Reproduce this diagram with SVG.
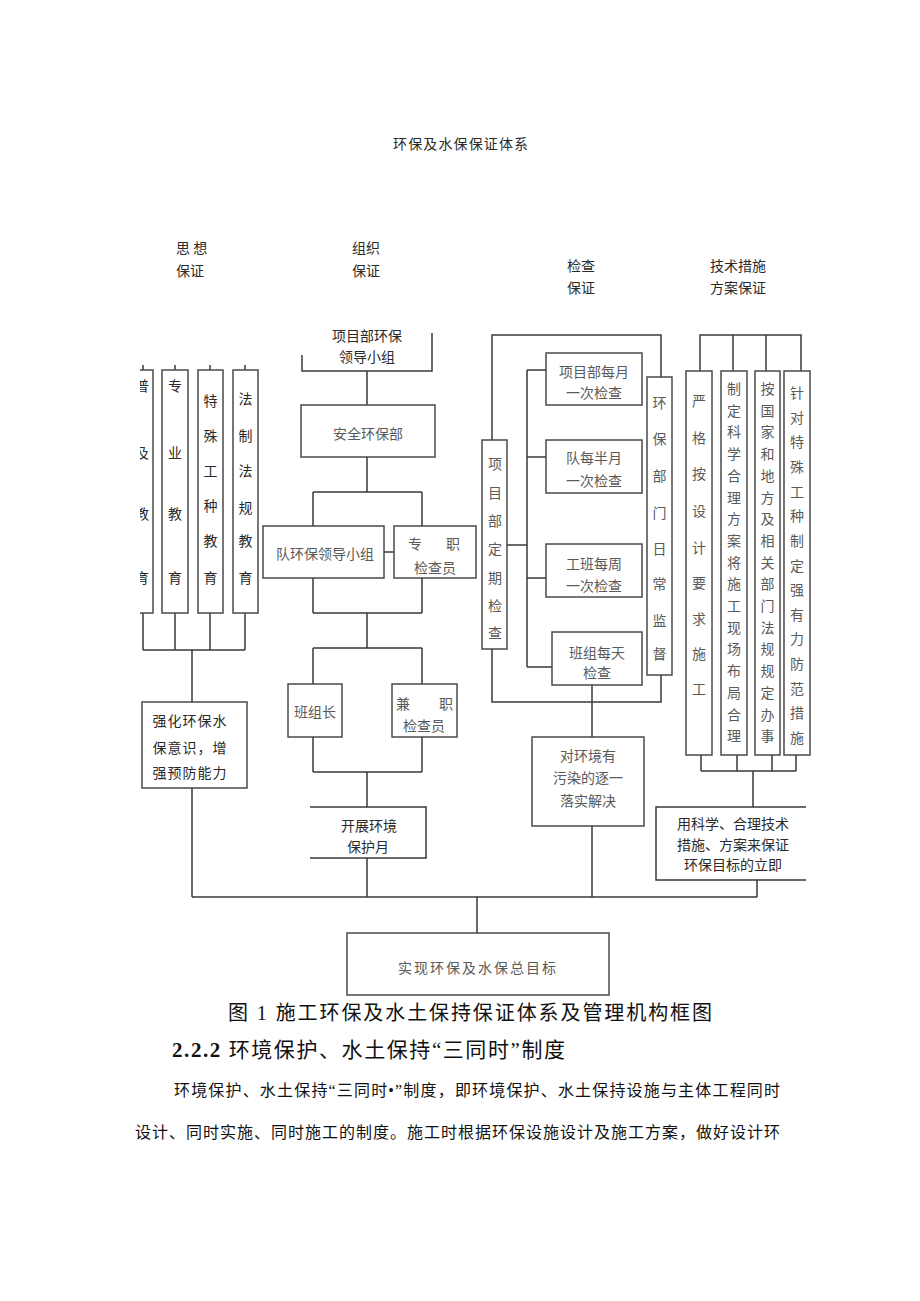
<svg xmlns="http://www.w3.org/2000/svg" width="920" height="1301" viewBox="0 0 920 1301">
<style>
.ln{stroke:#3a3a3a;stroke-width:1.5;fill:none}
.bx{stroke:#4a4a4a;stroke-width:1.5;fill:#fff}
.t{font-family:"Noto Sans CJK SC","Noto Sans CJK JP",sans-serif;font-size:14px;fill:#2a2a2a;text-anchor:middle;dominant-baseline:central}
.g{fill:#5a5a5a}
.s{text-anchor:start}
.doc{font-family:"Liberation Serif","Noto Sans CJK SC",serif;fill:#111;dominant-baseline:central}
</style>
<defs>
<clipPath id="cl"><rect x="140" y="0" width="780" height="1301"/></clipPath>
</defs>
<rect width="920" height="1301" fill="#fff"/>

<text class="t s" x="393" y="143" font-size="13" textLength="135">环保及水保保证体系</text>
<g id="labels">
<text class="t s" x="176" y="247">思 想</text>
<text class="t s" x="176" y="270">保证</text>
<text class="t s" x="352" y="247">组织</text>
<text class="t s" x="352" y="270">保证</text>
<text class="t s" x="567" y="265">检查</text>
<text class="t s" x="567" y="287">保证</text>
<text class="t s" x="710" y="265">技术措施</text>
<text class="t s" x="710" y="287">方案保证</text>
</g>

<g id="connectors">
<!-- left column -->
<path class="ln" d="M143,365V370M175,365V370M210,365V370M245,365V370"/>
<path class="ln" d="M143,613V650M175,613V650M210,613V650M245,613V650M143,650H245M192,650V702M192,788V897"/>
<!-- bus -->
<path class="ln" d="M192,897H757M477,897V933"/>
<!-- middle column -->
<path class="ln" d="M367,371V405M367,457V492M313,492H422M313,492V526M422,492V526M384,552H394"/>
<path class="ln" d="M313,578V613M422,578V613M313,613H422M367,613V648M313,648H422M313,648V684M422,648V684"/>
<path class="ln" d="M313,737V772M422,737V772M313,772H422M367,772V807M367,858V897"/>
<!-- check column -->
<path class="ln" d="M492,440V335H661V377M492,649V702H661V675"/>
<path class="ln" d="M527,370V667M527,370H546M527,457H546M527,578H546M527,667H552M507,545H527"/>
<path class="ln" d="M592,685V737M592,826V897"/>
<!-- right column -->
<path class="ln" d="M700,371V335H801V371M733,335V371M766,335V371"/>
<path class="ln" d="M701,755V771M737,755V771M772,755V771M796,755V771M701,771H796M753,771V807M757,880V897"/>
</g>

<g id="n-pujiao" clip-path="url(#cl)">
<rect class="bx" x="128" y="370" width="25" height="243"/>
<text class="t"><tspan x="142" y="385">普</tspan><tspan x="142" y="452">及</tspan><tspan x="142" y="513">教</tspan><tspan x="142" y="577">育</tspan></text>
</g>
<g id="n-zhuanye">
<rect class="bx" x="162" y="370" width="26" height="243"/>
<text class="t"><tspan x="175" y="385">专</tspan><tspan x="175" y="452">业</tspan><tspan x="175" y="513">教</tspan><tspan x="175" y="577">育</tspan></text>
</g>
<g id="n-teshu">
<rect class="bx" x="198" y="370" width="25" height="243"/>
<text class="t"><tspan x="210.5" y="400">特</tspan><tspan x="210.5" y="435">殊</tspan><tspan x="210.5" y="470">工</tspan><tspan x="210.5" y="505">种</tspan><tspan x="210.5" y="540">教</tspan><tspan x="210.5" y="577">育</tspan></text>
</g>
<g id="n-fazhi">
<rect class="bx" x="233" y="370" width="25" height="243"/>
<text class="t"><tspan x="245.5" y="398">法</tspan><tspan x="245.5" y="435">制</tspan><tspan x="245.5" y="470">法</tspan><tspan x="245.5" y="507">规</tspan><tspan x="245.5" y="540">教</tspan><tspan x="245.5" y="577">育</tspan></text>
</g>
<g id="n-qianghua">
<rect class="bx" x="142" y="702" width="105" height="86"/>
<text class="t" letter-spacing="1"><tspan x="190" y="720">强化环保水</tspan><tspan x="190" y="747">保意识，增</tspan><tspan x="190" y="772">强预防能力</tspan></text>
</g>

<g id="n-lingdao">
<path class="ln" d="M302,355V371H432V333"/>
<text class="t"><tspan x="367" y="335">项目部环保</tspan><tspan x="367" y="356">领导小组</tspan></text>
</g>
<g id="n-anquan">
<rect class="bx" x="301" y="405" width="134" height="52"/>
<text class="t g" x="368" y="433" font-size="15">安全环保部</text>
</g>
<g id="n-dui">
<rect class="bx" x="263" y="526" width="121" height="52"/>
<text class="t g" x="325" y="553">队环保领导小组</text>
</g>
<g id="n-zhuanzhi">
<rect class="bx" x="394" y="526" width="82" height="52"/>
<text class="t g"><tspan x="415" y="543">专</tspan><tspan x="453" y="543">职</tspan><tspan x="435" y="567">检查员</tspan></text>
</g>
<g id="n-banzuzhang">
<rect class="bx" x="288" y="684" width="54" height="53"/>
<text class="t g" x="315" y="711">班组长</text>
</g>
<g id="n-jianzhi">
<rect class="bx" x="392" y="684" width="65" height="53"/>
<text class="t g"><tspan x="403" y="703">兼</tspan><tspan x="446" y="703">职</tspan><tspan x="424" y="725">检查员</tspan></text>
</g>
<g id="n-kaizhan">
<path class="ln" d="M310,807H426V858H310"/>
<text class="t"><tspan x="369" y="825">开展环境</tspan><tspan x="368" y="846">保护月</tspan></text>
</g>

<g id="n-dingqi">
<rect class="bx" x="482" y="440" width="25" height="209"/>
<text class="t g"><tspan x="495" y="463">项</tspan><tspan x="495" y="492">目</tspan><tspan x="495" y="520">部</tspan><tspan x="495" y="548">定</tspan><tspan x="495" y="577">期</tspan><tspan x="495" y="605">检</tspan><tspan x="495" y="632">查</tspan></text>
</g>
<g id="n-meiyue">
<rect class="bx" x="546" y="353" width="96" height="52"/>
<text class="t g"><tspan x="594" y="371">项目部每月</tspan><tspan x="594" y="392">一次检查</tspan></text>
</g>
<g id="n-banyue">
<rect class="bx" x="546" y="440" width="96" height="53"/>
<text class="t g"><tspan x="594" y="457">队每半月</tspan><tspan x="594" y="480">一次检查</tspan></text>
</g>
<g id="n-meizhou">
<rect class="bx" x="546" y="544" width="96" height="53"/>
<text class="t g"><tspan x="594" y="563">工班每周</tspan><tspan x="594" y="585">一次检查</tspan></text>
</g>
<g id="n-meitian">
<rect class="bx" x="552" y="632" width="90" height="53"/>
<text class="t g"><tspan x="597" y="652">班组每天</tspan><tspan x="597" y="672">检查</tspan></text>
</g>
<g id="n-richang">
<rect class="bx" x="647" y="377" width="25" height="298"/>
<text class="t g"><tspan x="659.5" y="402">环</tspan><tspan x="659.5" y="438">保</tspan><tspan x="659.5" y="475">部</tspan><tspan x="659.5" y="512">门</tspan><tspan x="659.5" y="548">日</tspan><tspan x="659.5" y="583">常</tspan><tspan x="659.5" y="620">监</tspan><tspan x="659.5" y="653">督</tspan></text>
</g>
<g id="n-wuran">
<rect class="bx" x="532" y="737" width="112" height="89"/>
<text class="t g"><tspan x="588" y="755">对环境有</tspan><tspan x="588" y="777">污染的逐一</tspan><tspan x="588" y="800">落实解决</tspan></text>
</g>

<g id="n-yange">
<rect class="bx" x="686" y="371" width="26" height="384"/>
<text class="t g"><tspan x="699" y="400">严</tspan><tspan x="699" y="437">格</tspan><tspan x="699" y="473">按</tspan><tspan x="699" y="510">设</tspan><tspan x="699" y="547">计</tspan><tspan x="699" y="582">要</tspan><tspan x="699" y="618">求</tspan><tspan x="699" y="653">施</tspan><tspan x="699" y="688">工</tspan></text>
</g>
<g id="n-zhiding">
<rect class="bx" x="721" y="371" width="26" height="384"/>
<text class="t g"><tspan x="734" y="388">制</tspan><tspan x="734" y="409.7">定</tspan><tspan x="734" y="431.4">科</tspan><tspan x="734" y="453.1">学</tspan><tspan x="734" y="474.8">合</tspan><tspan x="734" y="496.5">理</tspan><tspan x="734" y="518.2">方</tspan><tspan x="734" y="539.9">案</tspan><tspan x="734" y="561.6">将</tspan><tspan x="734" y="583.3">施</tspan><tspan x="734" y="605">工</tspan><tspan x="734" y="626.7">现</tspan><tspan x="734" y="648.4">场</tspan><tspan x="734" y="670.1">布</tspan><tspan x="734" y="691.8">局</tspan><tspan x="734" y="713.5">合</tspan><tspan x="734" y="735.2">理</tspan></text>
</g>
<g id="n-anguojia">
<rect class="bx" x="755" y="371" width="25" height="384"/>
<text class="t g"><tspan x="767.5" y="388">按</tspan><tspan x="767.5" y="409.7">国</tspan><tspan x="767.5" y="431.4">家</tspan><tspan x="767.5" y="453.1">和</tspan><tspan x="767.5" y="474.8">地</tspan><tspan x="767.5" y="496.5">方</tspan><tspan x="767.5" y="518.2">及</tspan><tspan x="767.5" y="539.9">相</tspan><tspan x="767.5" y="561.6">关</tspan><tspan x="767.5" y="583.3">部</tspan><tspan x="767.5" y="605">门</tspan><tspan x="767.5" y="626.7">法</tspan><tspan x="767.5" y="648.4">规</tspan><tspan x="767.5" y="670.1">规</tspan><tspan x="767.5" y="691.8">定</tspan><tspan x="767.5" y="713.5">办</tspan><tspan x="767.5" y="735.2">事</tspan></text>
</g>
<g id="n-zhendui">
<rect class="bx" x="784" y="371" width="26" height="384"/>
<text class="t g"><tspan x="797" y="392">针</tspan><tspan x="797" y="416.6">对</tspan><tspan x="797" y="441.3">特</tspan><tspan x="797" y="465.9">殊</tspan><tspan x="797" y="490.6">工</tspan><tspan x="797" y="515.2">种</tspan><tspan x="797" y="539.9">制</tspan><tspan x="797" y="564.5">定</tspan><tspan x="797" y="589.1">强</tspan><tspan x="797" y="613.8">有</tspan><tspan x="797" y="638.4">力</tspan><tspan x="797" y="663.1">防</tspan><tspan x="797" y="687.7">范</tspan><tspan x="797" y="712.4">措</tspan><tspan x="797" y="737">施</tspan></text>
</g>
<g id="n-keji">
<path class="ln" d="M806,807H656V880H806"/>
<text class="t"><tspan x="733" y="823">用科学、合理技术</tspan><tspan x="733" y="844">措施、方案来保证</tspan><tspan x="733" y="864">环保目标的立即</tspan></text>
</g>

<g id="n-goal">
<rect class="bx" x="347" y="933" width="262" height="62"/>
<text class="t g" x="478" y="967" letter-spacing="2">实现环保及水保总目标</text>
</g>

<g id="doc">
<text class="doc" x="228" y="1013" font-size="20" textLength="484">图 1 施工环保及水土保持保证体系及管理机构框图</text>
<text class="doc" x="172" y="1050" font-size="21" textLength="393"><tspan font-weight="bold">2.2.2</tspan> 环境保护、水土保持“三同时”制度</text>
<text class="doc" x="174" y="1090" font-size="16" textLength="606">环境保护、水土保持“三同时•”制度，即环境保护、水土保持设施与主体工程同时</text>
<text class="doc" x="135" y="1132" font-size="16" textLength="645">设计、同时实施、同时施工的制度。施工时根据环保设施设计及施工方案，做好设计环</text>
</g>
</svg>
